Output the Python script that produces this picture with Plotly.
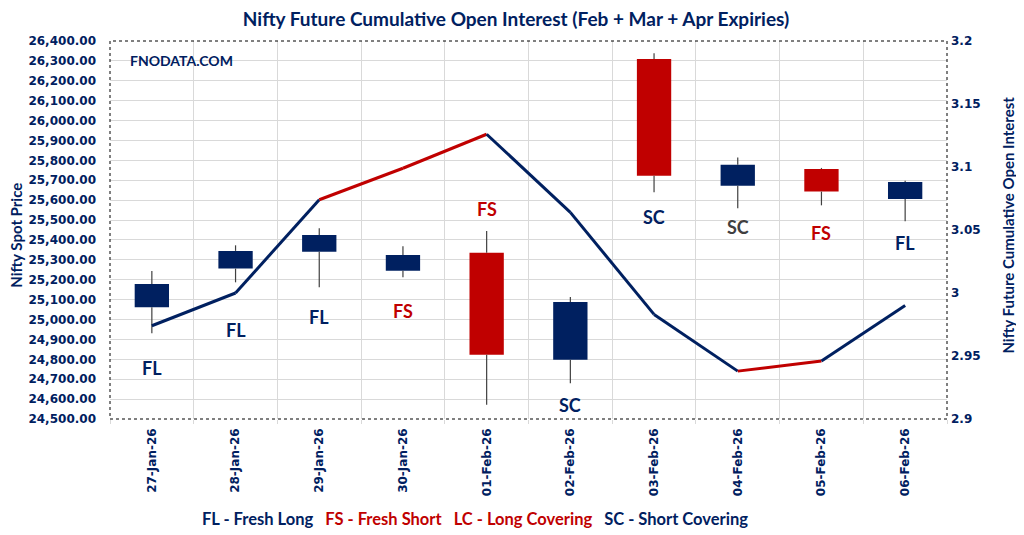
import plotly.graph_objects as go

# ---- data ----
dates = ["27-Jan-26", "28-Jan-26", "29-Jan-26", "30-Jan-26", "01-Feb-26",
         "02-Feb-26", "03-Feb-26", "04-Feb-26", "05-Feb-26", "06-Feb-26"]
open_px = [25062, 25256, 25341, 25245, 25336, 24798, 26310, 25673, 25757, 25606]
high_px = [25244, 25373, 25459, 25368, 25445, 25113, 26338, 25815, 25762, 25698]
low_px = [24931, 25187, 25162, 25212, 24571, 24680, 25640, 25559, 25574, 25494]
close_px = [25178, 25345, 25425, 25324, 24823, 25088, 25723, 25778, 25643, 25691]
cum_oi = [2.974, 3.000, 3.074, 3.099, 3.126, 3.064, 2.983, 2.938, 2.946, 2.990]
signals = ["FL", "FL", "FL", "FS", "FS", "SC", "SC", "SC", "FS", "FL"]
signal_level = [24757, 24948, 25013, 25043, 25556, 24571, 25515, 25465, 25435, 25385]

# ---- styles ----
NAVY = "#002060"
RED = "#C00000"
GRAY = "#404040"
sig_color = {"FL": NAVY, "SC": NAVY, "FS": RED, "LC": RED}
label_colors = [sig_color[s] for s in signals]
label_colors[7] = GRAY
TICKFONT = dict(family="DejaVu Sans", size=12, color=NAVY, weight="bold")
LBLFONT = "Lato"

fig = go.Figure()

# wicks (split around body so bodies stay clean)
wx, wy = [], []
for d, o, h, l, c in zip(dates, open_px, high_px, low_px, close_px):
    wx += [d, d, None, d, d, None]
    wy += [h, max(o, c), None, min(o, c), l, None]
fig.add_trace(go.Scatter(x=wx, y=wy, mode="lines",
                         line=dict(color=GRAY, width=1.2),
                         hoverinfo="skip", showlegend=False))

# bodies
body_colors = [NAVY if c >= o else RED for o, c in zip(open_px, close_px)]
fig.add_trace(go.Bar(x=dates,
                     y=[abs(c - o) for o, c in zip(open_px, close_px)],
                     base=[min(o, c) for o, c in zip(open_px, close_px)],
                     width=0.41, marker=dict(color=body_colors, line=dict(width=0)),
                     showlegend=False))

# OI line, segment coloured by destination signal
for i in range(1, len(dates)):
    fig.add_trace(go.Scatter(x=[dates[i - 1], dates[i]], y=[cum_oi[i - 1], cum_oi[i]],
                             mode="lines", yaxis="y2",
                             line=dict(color=sig_color[signals[i]], width=3),
                             showlegend=False))

# signal labels
for d, s, lv, col in zip(dates, signals, signal_level, label_colors):
    fig.add_annotation(x=d, y=lv, text=s, showarrow=False, xref="x", yref="y",
                       font=dict(family=LBLFONT, size=18, color=col, weight="bold"))

fig.add_annotation(xref="paper", yref="paper", x=0.0215, y=0.976, xanchor="left",
                   text="FNODATA.COM", showarrow=False,
                   font=dict(family=LBLFONT, size=14, color=NAVY, weight="bold"))

fig.add_annotation(xref="paper", yref="paper", x=-0.1125, y=0.487, textangle=-90,
                   xanchor="center", yanchor="middle",
                   text="Nifty Spot Price", showarrow=False,
                   font=dict(family=LBLFONT, size=15, color=NAVY, weight="bold"))
fig.add_annotation(xref="paper", yref="paper", x=1.0735, y=0.513, textangle=-90,
                   xanchor="center", yanchor="middle",
                   text="Nifty Future Cumulative Open Interest", showarrow=False,
                   font=dict(family=LBLFONT, size=15, color=NAVY, weight="bold"))

sp = "&nbsp;&nbsp;&nbsp;"
legend_txt = (f"<span style='color:{NAVY}'>FL - Fresh Long</span>{sp}"
              f"<span style='color:{RED}'>FS - Fresh Short</span>{sp}"
              f"<span style='color:{RED}'>LC - Long Covering</span>{sp}"
              f"<span style='color:{NAVY}'>SC - Short Covering</span>")
fig.add_annotation(xref="paper", yref="paper", x=0.436, y=-0.2646, text=legend_txt,
                   xanchor="center", yanchor="middle", showarrow=False,
                   font=dict(family=LBLFONT, size=16.5, color=NAVY, weight="bold"))

# dotted plot border
fig.add_shape(type="rect", xref="paper", yref="paper", x0=0, y0=0, x1=1, y1=1,
              line=dict(color="black", width=1, dash="dot"), layer="above")

fig.update_layout(
    width=1016, height=527,
    margin=dict(l=102, r=77, t=33, b=116),
    paper_bgcolor="white", plot_bgcolor="white",
    barmode="overlay",
    showlegend=False,
    title=dict(text="Nifty Future Cumulative Open Interest (Feb + Mar + Apr Expiries)",
               x=0.5, y=0.979, xanchor="center", yanchor="middle",
               font=dict(family=LBLFONT, size=19, color=NAVY, weight="bold")),
    xaxis=dict(type="category", tickson="boundaries", showgrid=True,
               gridcolor="#d9d9d9", gridwidth=1, tickangle=-90,
               ticks="outside", ticklen=4, tickcolor="#d9d9d9",
               ticklabelstandoff=6,
               tickfont=dict(family="DejaVu Sans", size=12, color=NAVY, weight="bold"),
               showline=False, zeroline=False, range=[-0.5, 9.5]),
    yaxis=dict(range=[24500, 26400], dtick=100, tickformat=",.2f",
               showgrid=True, gridcolor="#d9d9d9", gridwidth=1,
               ticklabelstandoff=13,
               tickfont=TICKFONT, zeroline=False, showline=False),
    yaxis2=dict(range=[2.9, 3.2], dtick=0.05, overlaying="y", side="right",
                showgrid=False, tickfont=TICKFONT, zeroline=False, showline=False,
                ticklabelstandoff=3),
)

fig.write_html("out.html")
